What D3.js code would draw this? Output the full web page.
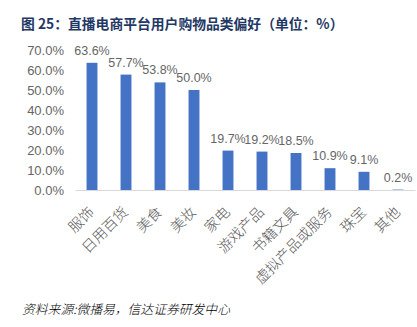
<!DOCTYPE html>
<html>
<head>
<meta charset="utf-8">
<script src="https://cdn.jsdelivr.net/npm/d3@7"></script>
<style>
  html, body { margin: 0; padding: 0; background: #fff; }
  svg { display: block; }
</style>
</head>
<body>
<svg id="chart" width="417" height="327"></svg>
<script>
// Shopping category preferences of live-commerce users (%)
const categories = ["服饰", "日用百货", "美食", "美妆", "家电", "游戏产品", "书籍文具", "虚拟产品或服务", "珠宝", "其他"];
const shares = [63.6, 57.7, 53.8, 50.0, 19.7, 19.2, 18.5, 10.9, 9.1, 0.2];
const yTicks = [0, 10, 20, 30, 40, 50, 60, 70];

const svg = d3.select("#chart");
const fontLatin = "'Liberation Sans', Arial, 'Noto Sans CJK SC', sans-serif";
const fontCJK = "'Noto Sans CJK SC', 'Liberation Sans', sans-serif";

const x = d3.scaleBand().domain(categories).range([75, 415]).paddingInner(0.68).paddingOuter(0.34);
const y = d3.scaleLinear().domain([0, 70]).range([190, 50]);

// Title
svg.append("text")
  .attr("x", 21).attr("y", 29)
  .attr("font-family", fontCJK)
  .attr("font-size", 13.8).attr("font-weight", "bold")
  .attr("fill", "#1f3864")
  .text("图 25：直播电商平台用户购物品类偏好（单位：%）");

// Y axis labels (no axis line)
const yAxis = d3.axisLeft(y).tickValues(yTicks).tickSize(0).tickPadding(0)
  .tickFormat(d => d3.format(".1f")(d) + "%");
const gy = svg.append("g").attr("transform", "translate(64,0)").call(yAxis);
gy.select(".domain").remove();
gy.selectAll("text")
  .attr("font-family", fontLatin).attr("font-size", 13).attr("fill", "#666666");

// Bars
svg.append("g").selectAll("rect")
  .data(categories)
  .join("rect")
  .attr("x", d => x(d))
  .attr("width", x.bandwidth())
  .attr("y", (d, i) => y(shares[i]))
  .attr("height", (d, i) => y(0) - y(shares[i]))
  .attr("fill", "#4472c4");

// Category axis with rotated labels
const xAxis = d3.axisBottom(x).tickSize(0).tickPadding(0);
const gx = svg.append("g").attr("transform", `translate(0,${y(0)})`).call(xAxis);
gx.select(".domain").attr("stroke", "#d9d9d9").attr("stroke-width", 1);
gx.selectAll("text")
  .attr("font-family", fontCJK).attr("font-size", 14.5).attr("font-weight", 300)
  .attr("fill", "#595959")
  .attr("text-anchor", "end")
  .attr("dy", 0)
  .attr("transform", "translate(3,23) rotate(-45)");

// Value labels
svg.append("g").selectAll("text")
  .data(categories)
  .join("text")
  .attr("x", d => x(d) + x.bandwidth() / 2)
  .attr("y", (d, i) => y(shares[i]) - 8)
  .attr("text-anchor", "middle")
  .attr("font-family", fontLatin).attr("font-size", 12.5).attr("fill", "#666666")
  .text((d, i) => d3.format(".1f")(shares[i]) + "%");

// Source note
svg.append("text")
  .attr("x", 22).attr("y", 314)
  .attr("font-family", fontCJK).attr("font-size", 12.8).attr("font-weight", 300)
  .attr("font-style", "italic").attr("fill", "#000")
  .text("资料来源:微播易，信达证券研发中心");
</script>
</body>
</html>
